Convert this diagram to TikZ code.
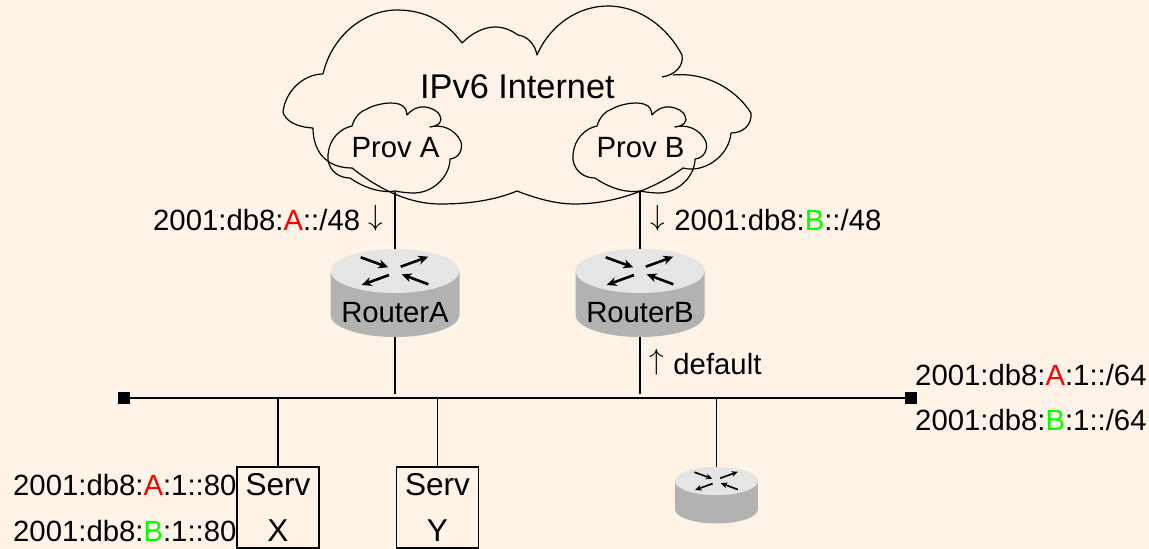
\documentclass[tikz,border=0pt]{standalone}
\usepackage{fix-cm}
\usepackage{fontspec}
\setmainfont{Liberation Sans}
\usetikzlibrary{arrows.meta}
\definecolor{bgpage}{HTML}{FFF2E6}
\definecolor{rtop}{HTML}{E5E5E5}
\definecolor{rside}{HTML}{B2B2B2}
\definecolor{mgreen}{HTML}{00FF00}
\definecolor{mred}{HTML}{FF0000}
\newcommand{\cA}{\textcolor{mred}{A}}
\newcommand{\cB}{\textcolor{mgreen}{B}}
\newcommand{\dnarrow}{\raisebox{0.17em}{$\downarrow$}}
\newcommand{\uparr}{\raisebox{0.17em}{$\uparrow$}}
\tikzset{
  x=1pt,y=-1pt,
  wire/.style={draw=black,line width=1.2pt},
  cloudline/.style={draw=black,line width=1.2pt,line join=round},
  lbl/.style={anchor=base west,inner sep=0pt,font=\fontsize{29.3}{35}\selectfont,text=black},
  lblc/.style={anchor=base,inner sep=0pt,font=\fontsize{29.3}{35}\selectfont,text=black},
  ends/.style={fill=black,draw=none,minimum size=11.5pt,inner sep=0pt},
  servbox/.style={draw=black,line width=1.2pt,minimum width=82pt,minimum height=81pt,inner sep=0pt,align=center,font=\fontsize{31.6}{46}\selectfont},
  rbox/.style={inner sep=0pt,draw=none},
  rarrow/.style={-{Stealth[length=#1*10pt,width=#1*9pt]},line width=#1*2.6pt,draw=black},
}
% router body: name, cx, cy of top ellipse, scale
\newcommand{\routerbody}[4]{%
  \begin{scope}[shift={(#2,#3)},scale=#4]
    \fill[rside] (-64.5,0) -- (-64.5,44) arc[start angle=180,end angle=0,x radius=64.5,y radius=22] -- (64.5,0) -- cycle;
    \fill[rtop] (0,0) ellipse[x radius=64.5,y radius=22];
    \draw[rarrow=#4] (-34.3,-13.7) -- (-6.7,-3.7);
    \draw[rarrow=#4] (5.7,-4.3) -- (33.3,-14.3);
    \draw[rarrow=#4] (-6,4) -- (-33.3,14);
    \draw[rarrow=#4] (33.3,13.3) -- (6.7,3.3);
  \end{scope}
  \node[rbox,minimum width=#4*129pt,minimum height=#4*88pt] (#1) at (#2,#3+#4*22) {};
}
% provider cloud, drawn at Prov B position and shifted
\newcommand{\provcloud}[1]{%
  \draw[cloudline,xshift=#1 pt]
    (597,126) .. controls (600,116) and (606,111) .. (612,109)
    .. controls (620,104) and (640,100) .. (648,106)
    .. controls (651,109) and (652,112) .. (652,115)
    .. controls (657,109) and (664,106) .. (670,107)
    .. controls (678,108) and (684,112) .. (685,116)
    .. controls (688,121) and (684,126) .. (675,127)
    .. controls (685,124) and (700,128) .. (706,142)
    .. controls (708,150) and (704,158) .. (695,159)
    .. controls (695,175) and (680,192) .. (660,193)
    .. controls (652,193) and (645,192) .. (640,191)
    .. controls (630,193) and (612,190) .. (595,178)
    .. controls (585,178) and (575,172) .. (573,160)
    .. controls (572,145) and (580,130) .. (597,126) -- cycle;
}
\begin{document}
\begin{tikzpicture}
\useasboundingbox (0,0) rectangle (1149,549);
\fill[bgpage] (0,0) rectangle (1149,549);

% big cloud
\draw[cloudline]
  (323,74) .. controls (332,35) and (365,10) .. (397,10)
  .. controls (425,10) and (447,22) .. (462,43)
  .. controls (472,33) and (484,27) .. (495,27)
  .. controls (505,27) and (512,31) .. (518,35)
  .. controls (527,36) and (535,44) .. (537,55)
  .. controls (550,25) and (578,6) .. (608,6)
  .. controls (640,6) and (668,28) .. (682,55)
  .. controls (684,66) and (675,75) .. (662,77)
  (673,75) .. controls (705,72) and (735,88) .. (751,113)
  .. controls (752,125) and (743,133) .. (731,133)
  .. controls (729,155) and (708,169) .. (692,169)
  .. controls (689,169) and (686,169) .. (683,168)
  .. controls (660,185) and (620,204) .. (575,204)
  .. controls (555,204) and (535,198) .. (517,191)
  .. controls (495,200) and (470,204) .. (440,204)
  .. controls (410,204) and (380,190) .. (352,168)
  .. controls (325,168) and (313,150) .. (313,128)
  .. controls (295,127) and (285,120) .. (283,112)
  .. controls (285,92) and (303,74) .. (323,74);
\node[lbl,font=\fontsize{34.3}{40}\selectfont] (inet) at (420,98.5) {IPv6 Internet};

\provcloud{0}
\provcloud{-245}
\node[lblc] (provA) at (395.5,157) {Prov A};
\node[lblc] (provB) at (640.5,157) {Prov B};
\coordinate (provAout) at (395,192);
\coordinate (provBout) at (640,192);

% routers
\routerbody{routerA}{395}{271}{1}
\routerbody{routerB}{640}{271}{1}
\routerbody{routerC}{716.5}{481}{0.643}
\node[lblc] (labA) at (395,322) {RouterA};
\node[lblc] (labB) at (640,322) {RouterB};

% bus
\node[ends] (busL) at (124,398) {};
\node[ends] (busR) at (911,398) {};
\draw[wire] (busL) -- (busR);

\coordinate (tapA) at (395,394);
\coordinate (tapB) at (640,394);
\coordinate (tapX) at (278,398);
\coordinate (tapY) at (437.5,398);
\coordinate (tapC) at (716.5,398);

% servers
\node[servbox] (servX) at (278,507.5) {Serv\\X};
\node[servbox] (servY) at (437.5,507.5) {Serv\\Y};

% connectors
\draw[wire] (provAout) -- (routerA.north);
\draw[wire] (provBout) -- (routerB.north);
\draw[wire] (routerA.south) -- (tapA);
\draw[wire] (routerB.south) -- (tapB);
\draw[wire] (tapX) -- (servX.north);
\draw[wire] (tapY) -- (servY.north);
\draw[wire] (tapC) -- (routerC.north);

% labels
\node[lbl] (t1) at (153,230.5) {2001:db8:\cA::/48 \dnarrow};
\node[lbl] (t2) at (650,230.5) {\dnarrow\hspace{9.6pt}2001:db8:\cB::/48};
\node[lbl] (t3) at (649,374) {\uparr\hspace{9.6pt}default};
\node[lbl] (t4) at (915,385) {2001:db8:\cA:1::/64};
\node[lbl] (t5) at (915,430.5) {2001:db8:\cB:1::/64};
\node[lbl] (t6) at (13,495) {2001:db8:\cA:1::80};
\node[lbl] (t7) at (13,541) {2001:db8:\cB:1::80};
\end{tikzpicture}
\end{document}
